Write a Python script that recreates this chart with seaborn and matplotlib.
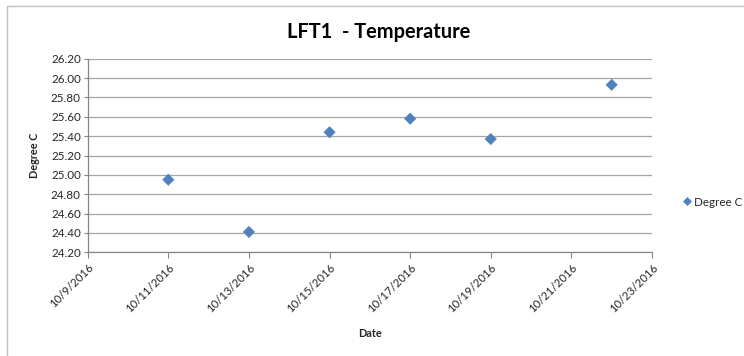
import matplotlib
matplotlib.use("Agg")
import matplotlib.pyplot as plt
import matplotlib.dates as mdates
from matplotlib.ticker import FuncFormatter, MultipleLocator
from matplotlib.patches import Rectangle
import seaborn as sns
import pandas as pd
import numpy as np

dates = ["2016-10-11", "2016-10-13", "2016-10-15", "2016-10-17", "2016-10-19", "2016-10-22"]
temps = [24.95, 24.41, 25.44, 25.58, 25.37, 25.93]
series_name = "Degree C"
title = "LFT1  - Temperature"
x_label = "Date"
y_label = "Degree C"

df = pd.DataFrame({"Date": pd.to_datetime(dates), "Degree C": temps, "series": series_name})

sns.set_theme(style="white")
plt.rcParams["font.family"] = ["Lato", "DejaVu Sans"]

fig = plt.figure(figsize=(7.44, 3.56), dpi=100)
W, H = 744, 356
ax = fig.add_axes([87.7 / W, 1 - 252.3 / H, (652 - 87.7) / W, (252.3 - 58.7) / H])

# outer chart border
fig.patches.append(Rectangle((7 / W, -0.05), 1.0, 1 - 6 / H + 0.05, transform=fig.transFigure,
                             fill=False, edgecolor="#bfbfbf", linewidth=1.0))

sns.scatterplot(data=df, x="Date", y="Degree C", hue="series", palette=["#4F81BD"],
                marker="D", s=32, edgecolor="#4F81BD", linewidth=0.5, ax=ax, zorder=3)

ax.set_ylim(24.2, 26.2)
ax.yaxis.set_major_locator(MultipleLocator(0.2))
ax.yaxis.set_major_formatter(FuncFormatter(lambda v, p: f"{v:.2f}"))
ax.set_xlim(mdates.date2num(pd.Timestamp("2016-10-09")), mdates.date2num(pd.Timestamp("2016-10-23")))
xt = pd.date_range("2016-10-09", "2016-10-23", freq="2D")
ax.set_xticks(mdates.date2num(xt))
ax.set_xticklabels([f"{d.month}/{d.day}/{d.year}" for d in xt], rotation=45, ha="right",
                   rotation_mode="anchor", fontsize=8.2)
ax.tick_params(axis="y", labelsize=8.4, length=3, color="#868686", width=0.8, direction="out", left=True, pad=2)
ax.tick_params(axis="x", length=4, color="#868686", width=0.8, direction="out", bottom=True, pad=3)

ax.grid(axis="y", color="#a6a6a6", linewidth=0.9)
ax.grid(axis="x", visible=False)
for s in ["top", "right"]:
    ax.spines[s].set_visible(False)
for s in ["left", "bottom"]:
    ax.spines[s].set_color("#868686")
    ax.spines[s].set_linewidth(0.9)

ax.set_xlabel(x_label, fontsize=7.8, fontweight="bold", labelpad=10)
ax.set_ylabel(y_label, fontsize=7.8, fontweight="bold", labelpad=8)
fig.text(379 / W, 1 - 32 / H, title, ha="center", va="center", fontsize=14.4, fontweight="bold", color="black")

leg = ax.legend(loc="center left", bbox_to_anchor=(680 / W, 1 - 202 / H), bbox_transform=fig.transFigure,
                frameon=False, fontsize=8.4, handletextpad=0.0, markerscale=0.8,
                borderaxespad=0, borderpad=0, handlelength=1.2)
leg.set_title(None)

fig.savefig("out.png", dpi=100)
